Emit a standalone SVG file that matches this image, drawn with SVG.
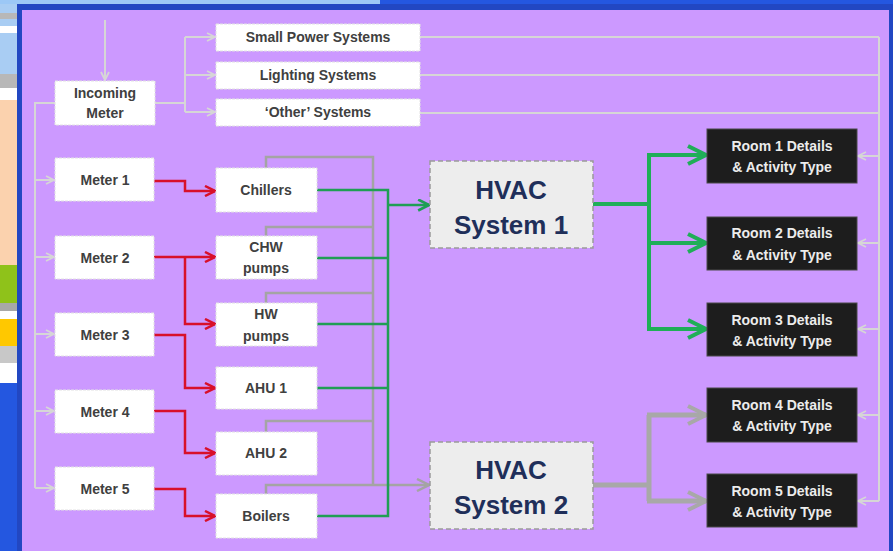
<svg xmlns="http://www.w3.org/2000/svg" width="893" height="551" viewBox="0 0 893 551">
<style>
.box{fill:#ffffff;stroke:#e2e2e2;stroke-width:1;stroke-dasharray:3 1}
.t{font-family:"Liberation Sans",Arial,sans-serif;font-weight:bold;font-size:14px;fill:#404040;text-anchor:middle}
.hv{fill:#ededed;stroke:#9a9a9a;stroke-width:1.5;stroke-dasharray:5 3}
.ht{font-family:"Liberation Sans",Arial,sans-serif;font-weight:bold;font-size:26px;fill:#1f2f5a;text-anchor:middle}
.rm{fill:#1d1d1d;stroke:#4a4a4a;stroke-width:1}
.rt{font-family:"Liberation Sans",Arial,sans-serif;font-weight:bold;font-size:14px;fill:#ececec;text-anchor:middle}
.lg{fill:none;stroke:#d6d6d6;stroke-width:2}
.rd{fill:none;stroke:#d8102a;stroke-width:2.5}
.gn{fill:none;stroke:#1f9e55;stroke-width:2.5}
.gnT{fill:none;stroke:#1fae58;stroke-width:4}
.dg{fill:none;stroke:#a4a4a4;stroke-width:2.5}
.dgT{fill:none;stroke:#a8a8a8;stroke-width:5}
</style>
<defs>
<marker id="aL" viewBox="0 0 10 10" refX="9" refY="5" markerWidth="10" markerHeight="10" markerUnits="userSpaceOnUse" orient="auto"><path d="M1,1 L9,5 L1,9" fill="none" stroke="#d6d6d6" stroke-width="1.8"/></marker>
<marker id="aR" viewBox="0 0 12 12" refX="11" refY="6" markerWidth="12" markerHeight="12" markerUnits="userSpaceOnUse" orient="auto"><path d="M1,1 L11,6 L1,11" fill="none" stroke="#d8102a" stroke-width="2.5"/></marker>
<marker id="aG" viewBox="0 0 12 12" refX="11" refY="6" markerWidth="13" markerHeight="13" markerUnits="userSpaceOnUse" orient="auto"><path d="M1,1 L11,6 L1,11" fill="none" stroke="#1f9e55" stroke-width="2.5"/></marker>
<marker id="aGT" viewBox="0 0 22 22" refX="20" refY="11" markerWidth="22" markerHeight="22" markerUnits="userSpaceOnUse" orient="auto"><path d="M2,2 L20,11 L2,20" fill="none" stroke="#1fae58" stroke-width="4"/></marker>
<marker id="aD" viewBox="0 0 14 14" refX="13" refY="7" markerWidth="14" markerHeight="14" markerUnits="userSpaceOnUse" orient="auto"><path d="M1,1 L13,7 L1,13" fill="none" stroke="#a4a4a4" stroke-width="2.5"/></marker>
<marker id="aDT" viewBox="0 0 22 22" refX="20" refY="11" markerWidth="22" markerHeight="22" markerUnits="userSpaceOnUse" orient="auto"><path d="M2,2 L20,11 L2,20" fill="none" stroke="#a8a8a8" stroke-width="4"/></marker>
</defs>

<!-- background -->
<rect x="0" y="0" width="893" height="551" fill="#2457e0"/>
<rect x="0" y="0" width="380" height="4" fill="#9cc8f6"/>
<rect x="0" y="4" width="17" height="379" fill="#a9cdf3"/>
<rect x="0" y="13" width="17" height="6" fill="#b8b8b8"/>
<rect x="0" y="26" width="17" height="7" fill="#ffffff"/>
<rect x="0" y="74" width="17" height="14" fill="#b8b8b8"/>
<rect x="0" y="88" width="17" height="12" fill="#ffffff"/>
<rect x="0" y="100" width="17" height="165" fill="#fbd2ae"/>
<rect x="0" y="265" width="17" height="38" fill="#8fc21a"/>
<rect x="0" y="303" width="17" height="8" fill="#a8a8a8"/>
<rect x="0" y="311" width="17" height="8" fill="#ffffff"/>
<rect x="0" y="319" width="17" height="27" fill="#ffc800"/>
<rect x="0" y="346" width="17" height="17" fill="#c8c8c8"/>
<rect x="0" y="363" width="17" height="20" fill="#ffffff"/>
<rect x="17" y="4" width="876" height="547" fill="#2247c2"/>
<rect x="22" y="10" width="867" height="541" fill="#cc99ff"/>

<!-- connectors -->
<g id="connectors">
  <!-- light grey supply lines -->
  <path class="lg" d="M105,20 V80" marker-end="url(#aL)"/>
  <path class="lg" d="M155,103 H185 M185,37 V112"/>
  <path class="lg" d="M185,37 H215" marker-end="url(#aL)"/>
  <path class="lg" d="M185,75 H215" marker-end="url(#aL)"/>
  <path class="lg" d="M185,112 H215" marker-end="url(#aL)"/>
  <path class="lg" d="M55,103 H35 V488"/>
  <path class="lg" d="M35,180 H54" marker-end="url(#aL)"/>
  <path class="lg" d="M35,257 H54" marker-end="url(#aL)"/>
  <path class="lg" d="M35,334 H54" marker-end="url(#aL)"/>
  <path class="lg" d="M35,411 H54" marker-end="url(#aL)"/>
  <path class="lg" d="M35,488 H54" marker-end="url(#aL)"/>
  <path class="lg" d="M420,37 H879 M420,75 H879 M420,113 H879 M879,37 V501"/>
  <path class="lg" d="M879,156 H858" marker-end="url(#aL)"/>
  <path class="lg" d="M879,243 H858" marker-end="url(#aL)"/>
  <path class="lg" d="M879,329 H858" marker-end="url(#aL)"/>
  <path class="lg" d="M879,415 H858" marker-end="url(#aL)"/>
  <path class="lg" d="M879,501 H858" marker-end="url(#aL)"/>

  <!-- red meter lines -->
  <path class="rd" d="M154,181 H185 V191 H215" marker-end="url(#aR)"/>
  <path class="rd" d="M154,257 H215" marker-end="url(#aR)"/>
  <path class="rd" d="M185,257 V324 H215" marker-end="url(#aR)"/>
  <path class="rd" d="M154,335 H185 V388 H215" marker-end="url(#aR)"/>
  <path class="rd" d="M154,411 H185 V453 H215" marker-end="url(#aR)"/>
  <path class="rd" d="M154,489 H185 V516 H215" marker-end="url(#aR)"/>

  <!-- dark grey to HVAC 2 -->
  <path class="dg" d="M266,168 V157 H373 V485"/>
  <path class="dg" d="M266,236 V227 H373"/>
  <path class="dg" d="M266,303 V293 H373"/>
  <path class="dg" d="M266,432 V421 H373"/>
  <path class="dg" d="M266,494 V485 H429" marker-end="url(#aD)"/>

  <!-- green to HVAC 1 -->
  <path class="gn" d="M317,190 H388 V516 H317"/>
  <path class="gn" d="M317,258 H388 M317,324 H388 M317,388 H388"/>
  <path class="gn" d="M388,205 H429" marker-end="url(#aG)"/>

  <!-- HVAC 1 outputs -->
  <path class="gnT" d="M593,204 H649 M649,155 V330"/>
  <path class="gnT" d="M647,155 H706" marker-end="url(#aGT)"/>
  <path class="gnT" d="M649,243 H706" marker-end="url(#aGT)"/>
  <path class="gnT" d="M647,329 H706" marker-end="url(#aGT)"/>

  <!-- HVAC 2 outputs -->
  <path class="dgT" d="M593,485 H649 M649,415 V501"/>
  <path class="dgT" d="M647,415 H706" marker-end="url(#aDT)"/>
  <path class="dgT" d="M647,501 H706" marker-end="url(#aDT)"/>
</g>

<!-- nodes -->
<g id="incoming-meter"><rect class="box" x="55" y="81" width="100" height="44"/><text class="t" x="105" y="98">Incoming</text><text class="t" x="105" y="118">Meter</text></g>
<g id="small-power"><rect class="box" x="216" y="24" width="204" height="27"/><text class="t" x="318" y="42">Small Power Systems</text></g>
<g id="lighting"><rect class="box" x="216" y="62" width="204" height="27"/><text class="t" x="318" y="80">Lighting Systems</text></g>
<g id="other"><rect class="box" x="216" y="99" width="204" height="27"/><text class="t" x="318" y="117">‘Other’ Systems</text></g>

<g id="meter1"><rect class="box" x="55" y="158" width="99" height="43"/><text class="t" x="105" y="185">Meter 1</text></g>
<g id="meter2"><rect class="box" x="55" y="236" width="99" height="43"/><text class="t" x="105" y="263">Meter 2</text></g>
<g id="meter3"><rect class="box" x="55" y="313" width="99" height="43"/><text class="t" x="105" y="340">Meter 3</text></g>
<g id="meter4"><rect class="box" x="55" y="390" width="99" height="43"/><text class="t" x="105" y="417">Meter 4</text></g>
<g id="meter5"><rect class="box" x="55" y="467" width="99" height="43"/><text class="t" x="105" y="494">Meter 5</text></g>

<g id="chillers"><rect class="box" x="216" y="168" width="101" height="44"/><text class="t" x="266" y="195">Chillers</text></g>
<g id="chw-pumps"><rect class="box" x="216" y="236" width="101" height="43"/><text class="t" x="266" y="252">CHW</text><text class="t" x="266" y="273">pumps</text></g>
<g id="hw-pumps"><rect class="box" x="216" y="303" width="101" height="43"/><text class="t" x="266" y="319">HW</text><text class="t" x="266" y="341">pumps</text></g>
<g id="ahu1"><rect class="box" x="216" y="367" width="101" height="42"/><text class="t" x="266" y="393">AHU 1</text></g>
<g id="ahu2"><rect class="box" x="216" y="432" width="101" height="43"/><text class="t" x="266" y="458">AHU 2</text></g>
<g id="boilers"><rect class="box" x="216" y="494" width="101" height="44"/><text class="t" x="266" y="521">Boilers</text></g>

<g id="hvac1"><rect class="hv" x="430" y="161" width="163" height="87"/><text class="ht" x="511" y="199">HVAC</text><text class="ht" x="511" y="234">System 1</text></g>
<g id="hvac2"><rect class="hv" x="430" y="442" width="163" height="87"/><text class="ht" x="511" y="479">HVAC</text><text class="ht" x="511" y="514">System 2</text></g>

<g id="room1"><rect class="rm" x="707" y="129" width="150" height="54"/><text class="rt" x="782" y="151">Room 1 Details</text><text class="rt" x="782" y="172">&amp; Activity Type</text></g>
<g id="room2"><rect class="rm" x="707" y="217" width="150" height="53"/><text class="rt" x="782" y="238">Room 2 Details</text><text class="rt" x="782" y="260">&amp; Activity Type</text></g>
<g id="room3"><rect class="rm" x="707" y="303" width="150" height="53"/><text class="rt" x="782" y="325">Room 3 Details</text><text class="rt" x="782" y="346">&amp; Activity Type</text></g>
<g id="room4"><rect class="rm" x="707" y="388" width="150" height="54"/><text class="rt" x="782" y="410">Room 4 Details</text><text class="rt" x="782" y="431">&amp; Activity Type</text></g>
<g id="room5"><rect class="rm" x="707" y="474" width="150" height="53"/><text class="rt" x="782" y="496">Room 5 Details</text><text class="rt" x="782" y="517">&amp; Activity Type</text></g>
</svg>
